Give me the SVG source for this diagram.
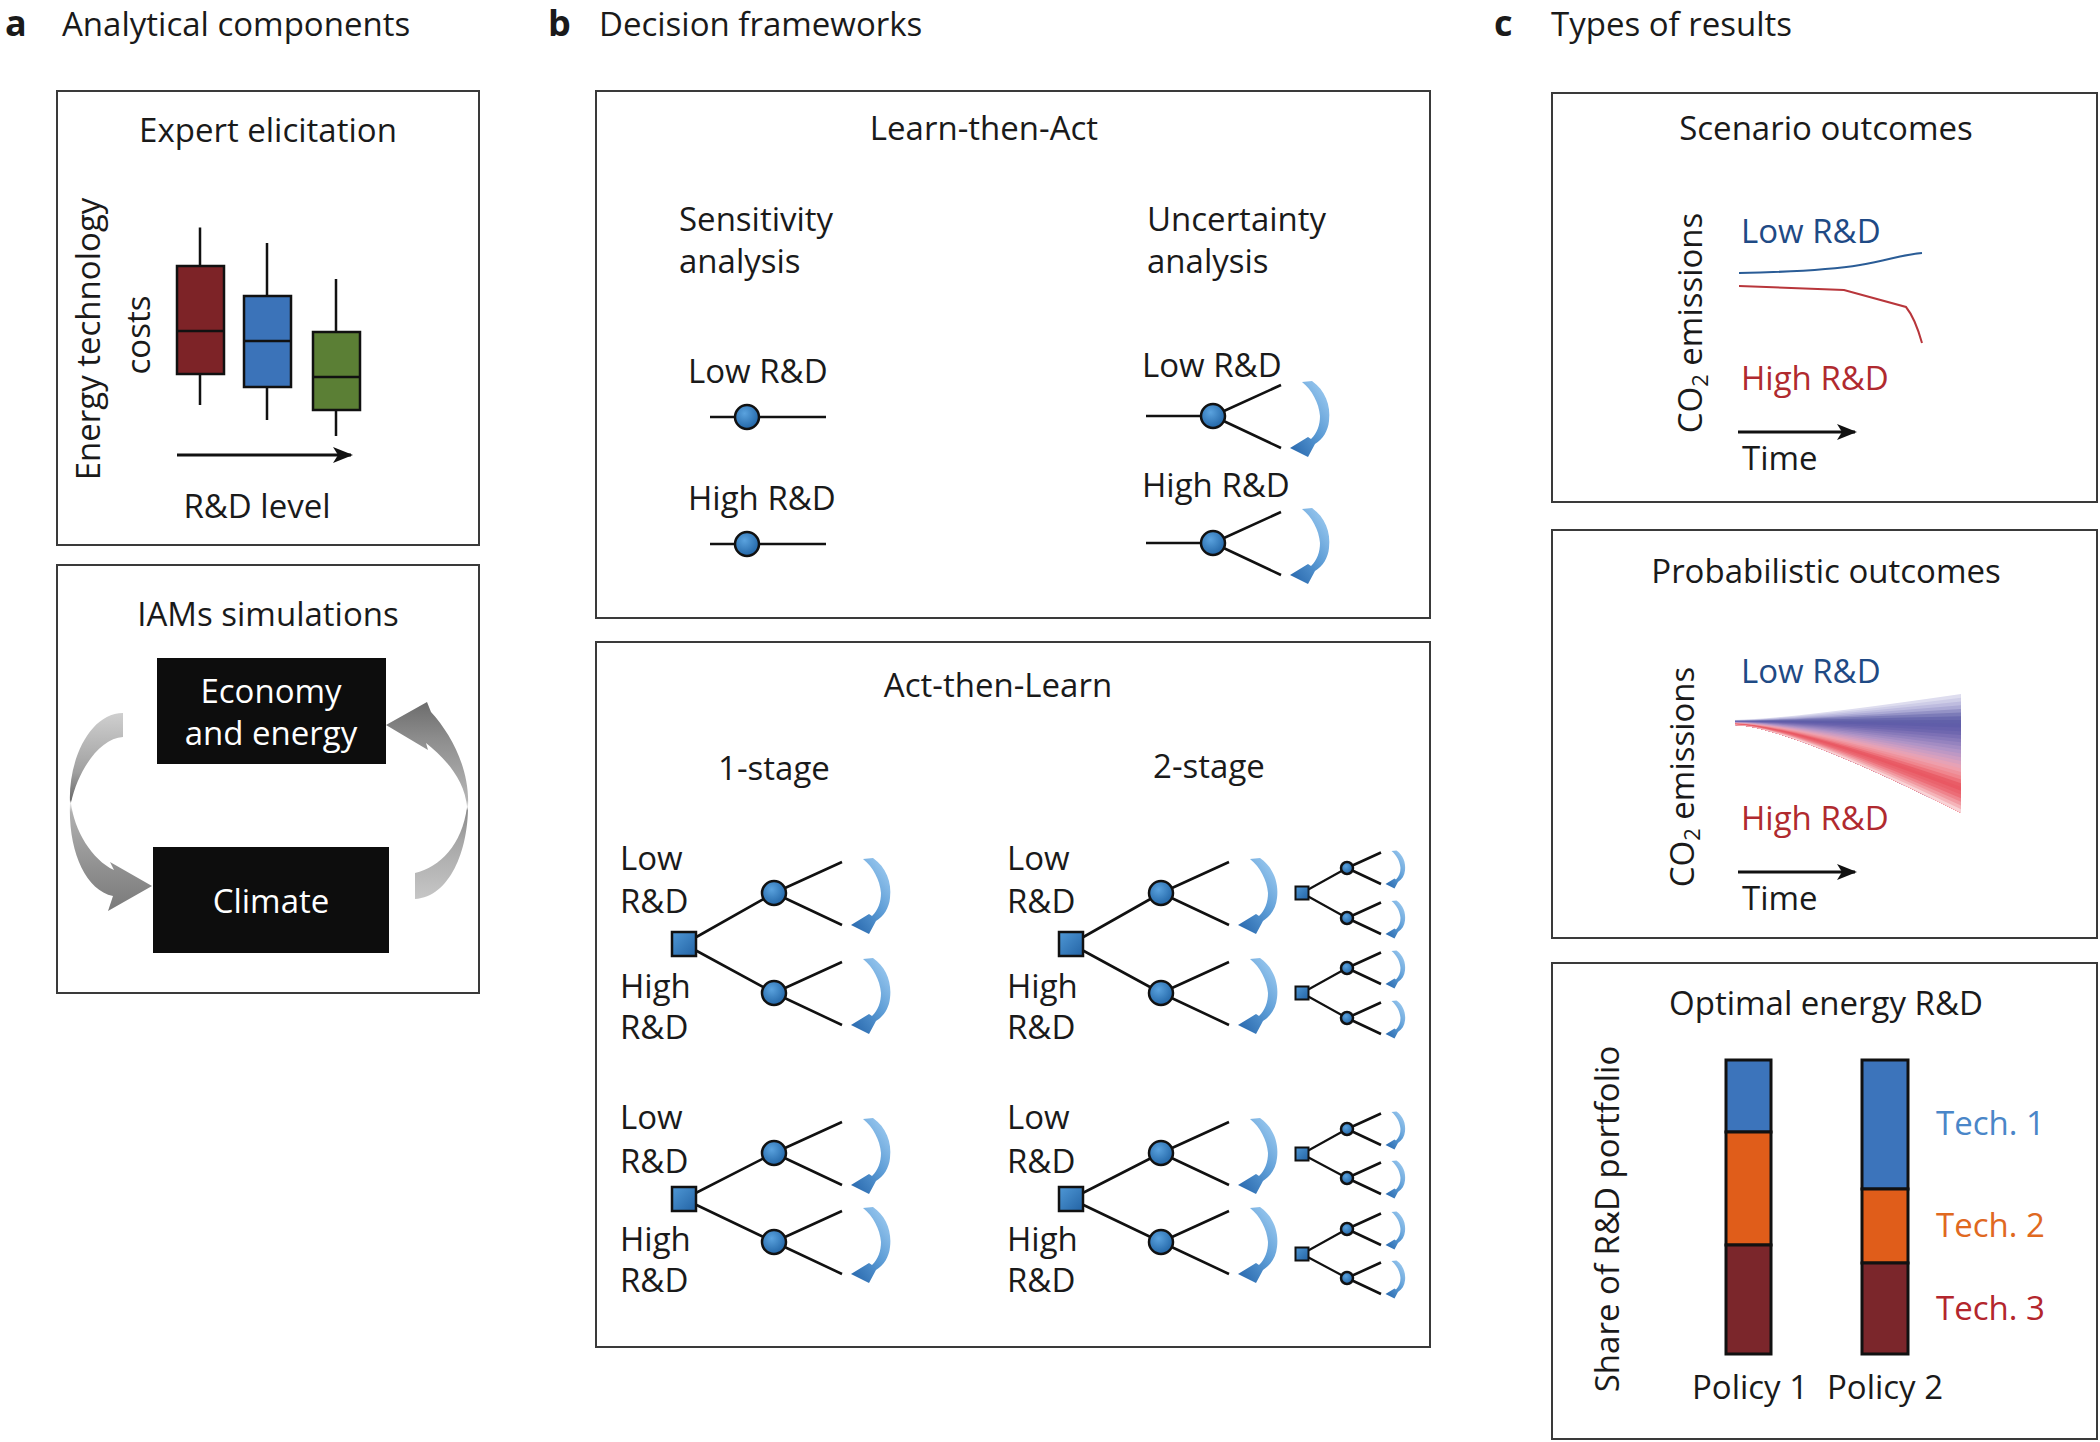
<svg xmlns="http://www.w3.org/2000/svg" xmlns:xlink="http://www.w3.org/1999/xlink" width="2100" height="1442" viewBox="0 0 2100 1442">
<style>
text{font-family:"Open Sans","Noto Sans","DejaVu Sans",sans-serif;font-size:33px;fill:#1a1a1a}
.pl{font-weight:700;font-size:36px}
.c{text-anchor:middle}
.w{fill:#fff}
.lo{fill:#1f4a85}
.hi{fill:#b02a2f}
.frame{fill:none;stroke:#3a3a3a;stroke-width:2}
.ln{fill:none;stroke:#111;stroke-width:2.6;vector-effect:non-scaling-stroke}
.cn{fill:url(#gc);stroke:#111;stroke-width:2.5;vector-effect:non-scaling-stroke}
.sq{fill:url(#gs);stroke:#111;stroke-width:2.5}
.bx{stroke:#111;stroke-width:2.5}
.ax{fill:none;stroke:#111;stroke-width:2.8;marker-end:url(#ah)}
.bar{stroke:#111;stroke-width:3}
</style>
<defs>
<marker id="ah" viewBox="0 0 20 16" refX="18" refY="8" markerWidth="20" markerHeight="16" markerUnits="userSpaceOnUse" orient="auto"><path d="M0,0 L20,8 L0,16 L5,8 Z" fill="#111"/></marker>
<radialGradient id="gc" cx="0.4" cy="0.35" r="0.7"><stop offset="0" stop-color="#5aa2de"/><stop offset="1" stop-color="#1f62a3"/></radialGradient>
<linearGradient id="gs" x1="0" y1="0" x2="1" y2="1"><stop offset="0" stop-color="#4f98d6"/><stop offset="1" stop-color="#2363a4"/></linearGradient>
<linearGradient id="gb" x1="0.8" y1="0" x2="0.1" y2="1"><stop offset="0" stop-color="#9ccaf0"/><stop offset="0.5" stop-color="#5b9bd5"/><stop offset="1" stop-color="#2868ad"/></linearGradient>
<linearGradient id="gl" gradientUnits="userSpaceOnUse" x1="0" y1="713" x2="0" y2="911"><stop offset="0" stop-color="#cfcfcf"/><stop offset="0.3" stop-color="#a0a0a0"/><stop offset="0.44" stop-color="#6a6a6a"/><stop offset="0.455" stop-color="#f0f0f0"/><stop offset="0.5" stop-color="#b0b0b0"/><stop offset="0.8" stop-color="#8e8e8e"/><stop offset="1" stop-color="#7a7a7a"/></linearGradient>
<linearGradient id="gr" gradientUnits="userSpaceOnUse" x1="0" y1="899" x2="0" y2="702"><stop offset="0" stop-color="#c6c6c6"/><stop offset="0.3" stop-color="#a6a6a6"/><stop offset="0.45" stop-color="#8a8a8a"/><stop offset="0.467" stop-color="#ededed"/><stop offset="0.5" stop-color="#b5b5b5"/><stop offset="0.8" stop-color="#8f8f8f"/><stop offset="1" stop-color="#6c6c6c"/></linearGradient>
<path id="ba" fill="url(#gb)" d="M0,1 L10,0 C23,9 29,24 27,40 C26,50 21,58 13,63 L6,76 L-12,67 L6,56 L9,58 C15,52 18,44 18,35 C17,22 10,9 0,1 Z"/>
<g id="cu">
<path class="ln" d="M0,0 L68,-31 M0,0 L68,32"/>
<circle class="cn" r="12"/>
<use xlink:href="#ba" href="#ba" x="89" y="-35"/>
</g>
</defs>

<rect width="2100" height="1442" fill="#fff"/>

<!-- Panel a -->
<g id="panel-a-title">
<text class="pl" x="5" y="36">a</text>
<text x="62" y="36">Analytical components</text>
</g>
<g id="expert-elicitation">
<rect class="frame" x="57" y="91" width="422" height="454"/>
<text class="c" x="268" y="142">Expert elicitation</text>
<text class="c" transform="translate(100,339) rotate(-90)">Energy technology</text>
<text class="c" transform="translate(150,335) rotate(-90)">costs</text>
<g id="boxplot-red">
<path class="bx" d="M200,227.5 V266 M200,374 V405"/>
<rect class="bx" x="177" y="266" width="47" height="108" fill="#7d2327"/>
<path class="bx" d="M177,331 H224"/>
</g>
<g id="boxplot-blue">
<path class="bx" d="M267,243 V296 M267,387 V420"/>
<rect class="bx" x="244" y="296" width="47" height="91" fill="#3b73b9"/>
<path class="bx" d="M244,341 H291"/>
</g>
<g id="boxplot-green">
<path class="bx" d="M336,279 V332 M336,410 V436"/>
<rect class="bx" x="313" y="332" width="47" height="78" fill="#5b7f35"/>
<path class="bx" d="M313,377 H360"/>
</g>
<line class="ax" x1="177" y1="455" x2="351" y2="455"/>
<text class="c" x="257" y="518">R&amp;D level</text>
</g>

<g id="iams-simulations">
<rect class="frame" x="57" y="565" width="422" height="428"/>
<text class="c" x="268" y="626">IAMs simulations</text>
<g id="node-economy">
<rect x="157" y="658" width="229" height="106" fill="#0d0d0d"/>
<text class="c w" x="271" y="703">Economy</text>
<text class="c w" x="271" y="745">and energy</text>
</g>
<g id="node-climate">
<rect x="153" y="847" width="236" height="106" fill="#0d0d0d"/>
<text class="c w" x="271" y="913">Climate</text>
</g>
<g id="iam-connectors">
<path fill="url(#gl)" d="M123,713 L123,737 C100,738 78,770 71,803 C74,830 92,860 114,870 L110,862 L152,886 L108,911 L113,896 C85,890 68,850 70,803 C68,760 90,713 123,713 Z"/>
<path fill="url(#gr)" d="M415,899 L415,873 C440,867 462,845 467,807 C465,780 445,758 426,743 L428,750 L386,725 L427,702 L431,712 C452,735 470,770 468,807 C468,850 450,897 415,899 Z"/>
</g>
</g>

<!-- Panel b -->
<g id="panel-b-title">
<text class="pl" x="548" y="36">b</text>
<text x="599" y="36">Decision frameworks</text>
</g>
<g id="learn-then-act">
<rect class="frame" x="596" y="91" width="834" height="527"/>
<text class="c" x="984" y="140">Learn-then-Act</text>
<text x="679" y="231">Sensitivity</text>
<text x="679" y="273">analysis</text>
<text x="1147" y="231">Uncertainty</text>
<text x="1147" y="273">analysis</text>
<g id="sens-low">
<text x="688" y="383">Low R&amp;D</text>
<path class="ln" d="M710,417 H826"/>
<circle class="cn" cx="747" cy="417" r="12"/>
</g>
<g id="sens-high">
<text x="688" y="510">High R&amp;D</text>
<path class="ln" d="M710,544 H826"/>
<circle class="cn" cx="747" cy="544" r="12"/>
</g>
<g id="unc-low">
<text x="1142" y="377">Low R&amp;D</text>
<path class="ln" d="M1146,416 H1213"/>
<use xlink:href="#cu" href="#cu" x="1213" y="416"/>
</g>
<g id="unc-high">
<text x="1142" y="497">High R&amp;D</text>
<path class="ln" d="M1146,543 H1213"/>
<use xlink:href="#cu" href="#cu" x="1213" y="543"/>
</g>
</g>

<g id="act-then-learn">
<rect class="frame" x="596" y="642" width="834" height="705"/>
<text class="c" x="998" y="697">Act-then-Learn</text>
<text class="c" x="774" y="780">1-stage</text>
<text class="c" x="1209" y="778">2-stage</text>

<g id="labels-1stage">
<text x="620" y="870">Low</text><text x="620" y="913">R&amp;D</text>
<text x="620" y="998">High</text><text x="620" y="1039">R&amp;D</text>
<text x="620" y="1129">Low</text><text x="620" y="1173">R&amp;D</text>
<text x="620" y="1251">High</text><text x="620" y="1292">R&amp;D</text>
</g>
<g id="labels-2stage">
<text x="1007" y="870">Low</text><text x="1007" y="913">R&amp;D</text>
<text x="1007" y="998">High</text><text x="1007" y="1039">R&amp;D</text>
<text x="1007" y="1129">Low</text><text x="1007" y="1173">R&amp;D</text>
<text x="1007" y="1251">High</text><text x="1007" y="1292">R&amp;D</text>
</g>

<g id="connectors">
<path class="ln" d="M684,944 L774,893 M684,944 L774,993 M684,1199 L774,1153 M684,1199 L774,1242 M1071,944 L1161,893 M1071,944 L1161,993 M1071,1199 L1161,1153 M1071,1199 L1161,1242"/>
<path class="ln" style="stroke-width:2.2" d="M1302,893 L1347,868 M1302,893 L1347,918 M1302,993 L1347,968 M1302,993 L1347,1018 M1302,1154 L1347,1129 M1302,1154 L1347,1178 M1302,1254 L1347,1229 M1302,1254 L1347,1278"/>
</g>

<g id="tree-1stage-top">
<use xlink:href="#cu" href="#cu" x="774" y="893"/>
<use xlink:href="#cu" href="#cu" x="774" y="993"/>
<rect class="sq" x="672" y="932" width="24" height="24"/>
</g>
<g id="tree-1stage-bottom">
<use xlink:href="#cu" href="#cu" x="774" y="1153"/>
<use xlink:href="#cu" href="#cu" x="774" y="1242"/>
<rect class="sq" x="672" y="1187" width="24" height="24"/>
</g>
<g id="tree-2stage-top">
<use xlink:href="#cu" href="#cu" x="1161" y="893"/>
<use xlink:href="#cu" href="#cu" x="1161" y="993"/>
<rect class="sq" x="1059" y="932" width="24" height="24"/>
<use xlink:href="#cu" href="#cu" transform="translate(1347,868) scale(0.5)"/>
<use xlink:href="#cu" href="#cu" transform="translate(1347,918) scale(0.5)"/>
<use xlink:href="#cu" href="#cu" transform="translate(1347,968) scale(0.5)"/>
<use xlink:href="#cu" href="#cu" transform="translate(1347,1018) scale(0.5)"/>
<rect class="sq" style="stroke-width:2" x="1295.5" y="886.5" width="13" height="13"/>
<rect class="sq" style="stroke-width:2" x="1295.5" y="986.5" width="13" height="13"/>
</g>
<g id="tree-2stage-bottom">
<use xlink:href="#cu" href="#cu" x="1161" y="1153"/>
<use xlink:href="#cu" href="#cu" x="1161" y="1242"/>
<rect class="sq" x="1059" y="1187" width="24" height="24"/>
<use xlink:href="#cu" href="#cu" transform="translate(1347,1129) scale(0.5)"/>
<use xlink:href="#cu" href="#cu" transform="translate(1347,1178) scale(0.5)"/>
<use xlink:href="#cu" href="#cu" transform="translate(1347,1229) scale(0.5)"/>
<use xlink:href="#cu" href="#cu" transform="translate(1347,1278) scale(0.5)"/>
<rect class="sq" style="stroke-width:2" x="1295.5" y="1147.5" width="13" height="13"/>
<rect class="sq" style="stroke-width:2" x="1295.5" y="1247.5" width="13" height="13"/>
</g>
</g>

<!-- Panel c -->
<g id="panel-c-title">
<text class="pl" x="1494" y="36">c</text>
<text x="1551" y="36">Types of results</text>
</g>
<g id="scenario-outcomes">
<rect class="frame" x="1552" y="93" width="545" height="409"/>
<text class="c" x="1826" y="140">Scenario outcomes</text>
<text class="c" transform="translate(1702,323) rotate(-90)">CO<tspan font-size="22" dy="6">2</tspan><tspan dy="-6"> emissions</tspan></text>
<text class="lo" x="1741" y="243">Low R&amp;D</text>
<path fill="none" stroke="#2a5c96" stroke-width="2" d="M1739,273 C1790,272 1830,270 1860,265 S1900,255 1922,253"/>
<path fill="none" stroke="#b8363b" stroke-width="2" d="M1739,286 L1844,290 L1906,307 Q1915,318 1922,343"/>
<text class="hi" x="1741" y="390">High R&amp;D</text>
<line class="ax" x1="1738" y1="432" x2="1855" y2="432"/>
<text x="1742" y="470">Time</text>
</g>

<g id="probabilistic-outcomes">
<rect class="frame" x="1552" y="530" width="545" height="408"/>
<text class="c" x="1826" y="583">Probabilistic outcomes</text>
<text class="c" transform="translate(1694,777) rotate(-90)">CO<tspan font-size="22" dy="6">2</tspan><tspan dy="-6"> emissions</tspan></text>
<text class="lo" x="1741" y="683">Low R&amp;D</text>
<g id="fan">
<path fill="#deddef" d="M1735,720 Q1790,719 1961,694 L1961,813 Q1790,727 1735,725Z"/>
<path fill="#cecde7" d="M1735,720.16 Q1790,719.25 1961,697.72 L1961,813 Q1790,727 1735,725Z"/>
<path fill="#bebcdf" d="M1735,720.31 Q1790,719.5 1961,701.44 L1961,813 Q1790,727 1735,725Z"/>
<path fill="#acaad5" d="M1735,720.47 Q1790,719.75 1961,705.16 L1961,813 Q1790,727 1735,725Z"/>
<path fill="#9492c6" d="M1735,720.63 Q1790,720 1961,708.88 L1961,813 Q1790,727 1735,725Z"/>
<path fill="#7c7bb8" d="M1735,720.78 Q1790,720.25 1961,712.59 L1961,813 Q1790,727 1735,725Z"/>
<path fill="#6a69ae" d="M1735,720.94 Q1790,720.5 1961,716.31 L1961,813 Q1790,727 1735,725Z"/>
<path fill="#6160a9" d="M1735,721.09 Q1790,720.75 1961,720.03 L1961,813 Q1790,727 1735,725Z"/>
<path fill="#605da9" d="M1735,721.25 Q1790,721 1961,723.75 L1961,813 Q1790,727 1735,725Z"/>
<path fill="#6761ac" d="M1735,721.41 Q1790,721.25 1961,727.47 L1961,813 Q1790,727 1735,725Z"/>
<path fill="#6f67af" d="M1735,721.56 Q1790,721.5 1961,731.19 L1961,813 Q1790,727 1735,725Z"/>
<path fill="#7c70b5" d="M1735,721.72 Q1790,721.75 1961,734.91 L1961,813 Q1790,727 1735,725Z"/>
<path fill="#887aba" d="M1735,721.88 Q1790,722 1961,738.63 L1961,813 Q1790,727 1735,725Z"/>
<path fill="#9583bf" d="M1735,722.03 Q1790,722.25 1961,742.34 L1961,813 Q1790,727 1735,725Z"/>
<path fill="#a38cc3" d="M1735,722.19 Q1790,722.5 1961,746.06 L1961,813 Q1790,727 1735,725Z"/>
<path fill="#b094c6" d="M1735,722.34 Q1790,722.75 1961,749.78 L1961,813 Q1790,727 1735,725Z"/>
<path fill="#be98c4" d="M1735,722.5 Q1790,723 1961,753.5 L1961,813 Q1790,727 1735,725Z"/>
<path fill="#cc9dc2" d="M1735,722.66 Q1790,723.25 1961,757.22 L1961,813 Q1790,727 1735,725Z"/>
<path fill="#d9a0bd" d="M1735,722.81 Q1790,723.5 1961,760.94 L1961,813 Q1790,727 1735,725Z"/>
<path fill="#e6a2b6" d="M1735,722.97 Q1790,723.75 1961,764.66 L1961,813 Q1790,727 1735,725Z"/>
<path fill="#ee9fac" d="M1735,723.13 Q1790,724 1961,768.38 L1961,813 Q1790,727 1735,725Z"/>
<path fill="#ef939d" d="M1735,723.28 Q1790,724.25 1961,772.09 L1961,813 Q1790,727 1735,725Z"/>
<path fill="#f0868e" d="M1735,723.44 Q1790,724.5 1961,775.81 L1961,813 Q1790,727 1735,725Z"/>
<path fill="#ed717a" d="M1735,723.59 Q1790,724.75 1961,779.53 L1961,813 Q1790,727 1735,725Z"/>
<path fill="#e95d67" d="M1735,723.75 Q1790,725 1961,783.25 L1961,813 Q1790,727 1735,725Z"/>
<path fill="#e95863" d="M1735,723.91 Q1790,725.25 1961,786.97 L1961,813 Q1790,727 1735,725Z"/>
<path fill="#ea636d" d="M1735,724.06 Q1790,725.5 1961,790.69 L1961,813 Q1790,727 1735,725Z"/>
<path fill="#ec6d77" d="M1735,724.22 Q1790,725.75 1961,794.41 L1961,813 Q1790,727 1735,725Z"/>
<path fill="#ef838c" d="M1735,724.38 Q1790,726 1961,798.13 L1961,813 Q1790,727 1735,725Z"/>
<path fill="#f19aa1" d="M1735,724.53 Q1790,726.25 1961,801.84 L1961,813 Q1790,727 1735,725Z"/>
<path fill="#f5b4b9" d="M1735,724.69 Q1790,726.5 1961,805.56 L1961,813 Q1790,727 1735,725Z"/>
<path fill="#f9d3d6" d="M1735,724.84 Q1790,726.75 1961,809.28 L1961,813 Q1790,727 1735,725Z"/>
</g>
<text class="hi" x="1741" y="830">High R&amp;D</text>
<line class="ax" x1="1738" y1="872" x2="1855" y2="872"/>
<text x="1742" y="910">Time</text>
</g>

<g id="optimal-energy-rd">
<rect class="frame" x="1552" y="963" width="545" height="476"/>
<text class="c" x="1826" y="1015">Optimal energy R&amp;D</text>
<text class="c" transform="translate(1619,1219) rotate(-90)">Share of R&amp;D portfolio</text>
<g id="bar-policy1">
<rect class="bar" x="1726" y="1060" width="45" height="72" fill="#3c74bb"/>
<rect class="bar" x="1726" y="1132" width="45" height="113" fill="#e05d1a"/>
<rect class="bar" x="1726" y="1245" width="45" height="109" fill="#7b262b"/>
</g>
<g id="bar-policy2">
<rect class="bar" x="1862" y="1060" width="46" height="129" fill="#3c74bb"/>
<rect class="bar" x="1862" y="1189" width="46" height="74" fill="#e05d1a"/>
<rect class="bar" x="1862" y="1263" width="46" height="91" fill="#7b262b"/>
</g>
<text x="1936" y="1135" style="fill:#4a86c8">Tech. 1</text>
<text x="1936" y="1237" style="fill:#e0691f">Tech. 2</text>
<text x="1936" y="1320" style="fill:#b3262d">Tech. 3</text>
<text class="c" x="1750" y="1399">Policy 1</text>
<text class="c" x="1885" y="1399">Policy 2</text>
</g>
</svg>
